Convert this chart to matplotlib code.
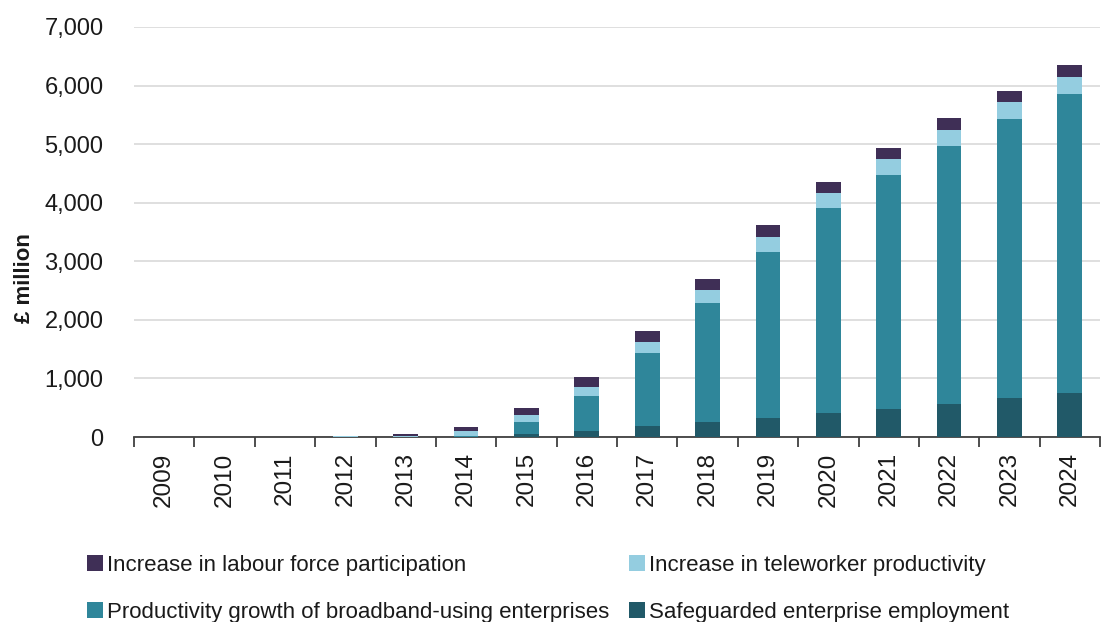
import matplotlib
matplotlib.use("Agg")
import matplotlib.pyplot as plt
import numpy as np
from matplotlib.patches import Patch

plt.rcParams['font.family'] = ['Liberation Sans', 'DejaVu Sans']

years = ["2009", "2010", "2011", "2012", "2013", "2014", "2015", "2016",
         "2017", "2018", "2019", "2020", "2021", "2022", "2023", "2024"]
safeguarded = [0, 0, 0, 2, 3, 6, 56, 108, 181, 249, 324, 403, 478, 568, 659, 744]
productivity = [0, 0, 0, 3, 5, 15, 193, 585, 1253, 2038, 2843, 3505, 3998, 4403, 4773, 5109]
teleworker = [0, 0, 0, 6, 14, 80, 126, 160, 193, 226, 246, 256, 278, 278, 285, 301]
labour = [0, 0, 0, 4, 23, 70, 113, 164, 176, 183, 198, 198, 188, 205, 193, 194]

labels = ["Safeguarded enterprise employment",
          "Productivity growth of broadband-using enterprises",
          "Increase in teleworker productivity",
          "Increase in labour force participation"]
colors = ["#215968", "#2f869a", "#94cde0", "#3f2f56"]
series = [safeguarded, productivity, teleworker, labour]

fig = plt.figure(figsize=(11.04, 6.22), dpi=100)
ax = fig.add_axes([134/1104, 1-437/622, 966/1104, 410/622])

x = np.arange(len(years))
bottom = np.zeros(len(years))
handles = []
for vals, lab, col in zip(series, labels, colors):
    v = np.array(vals, dtype=float)
    ax.bar(x, v, width=0.41, bottom=bottom, color=col, edgecolor='none', zorder=3)
    bottom += v
    handles.append(Patch(facecolor=col, edgecolor='none', label=lab))

ax.set_xlim(-0.5, len(years) - 0.5)
ax.set_ylim(0, 7000)
ax.set_yticks(np.arange(0, 7001, 1000))
ax.set_yticklabels([f"{v:,}" for v in range(0, 7001, 1000)])
ax.yaxis.grid(True, color="#d9d9d9", linewidth=1.2, zorder=0)
ax.set_axisbelow(True)

for s in ["left", "right", "top"]:
    ax.spines[s].set_visible(False)
ax.spines["bottom"].set_color("#404040")
ax.spines["bottom"].set_linewidth(1.3)

ax.set_xticks(np.arange(-0.5, len(years), 1.0))
ax.set_xticklabels([])
ax.tick_params(axis='x', which='major', length=7, width=1.3, color="#404040", direction='out')
ax.set_xticks(x, minor=True)
ax.set_xticklabels(years, minor=True, rotation=90, fontsize=17.5, color="#1a1a1a")
ax.tick_params(axis='x', which='minor', length=0, pad=11)
ax.tick_params(axis='y', length=0, pad=22, labelsize=17, labelcolor="#1a1a1a")

ax.set_ylabel("£ million", fontsize=16, fontweight='bold', color="#1a1a1a")
ax.yaxis.set_label_coords(-0.103, 0.388)

order = [handles[3], handles[1], handles[2], handles[0]]
fig.legend(handles=order, labels=[h.get_label() for h in order], ncol=2,
           loc='lower left', bbox_to_anchor=(67/1104, -0.033), frameon=False,
           fontsize=16, handlelength=0.7, handleheight=0.75, handletextpad=0.2,
           columnspacing=0.9, labelspacing=1.17, labelcolor="#1a1a1a")

fig.savefig("out.png", dpi=100)
